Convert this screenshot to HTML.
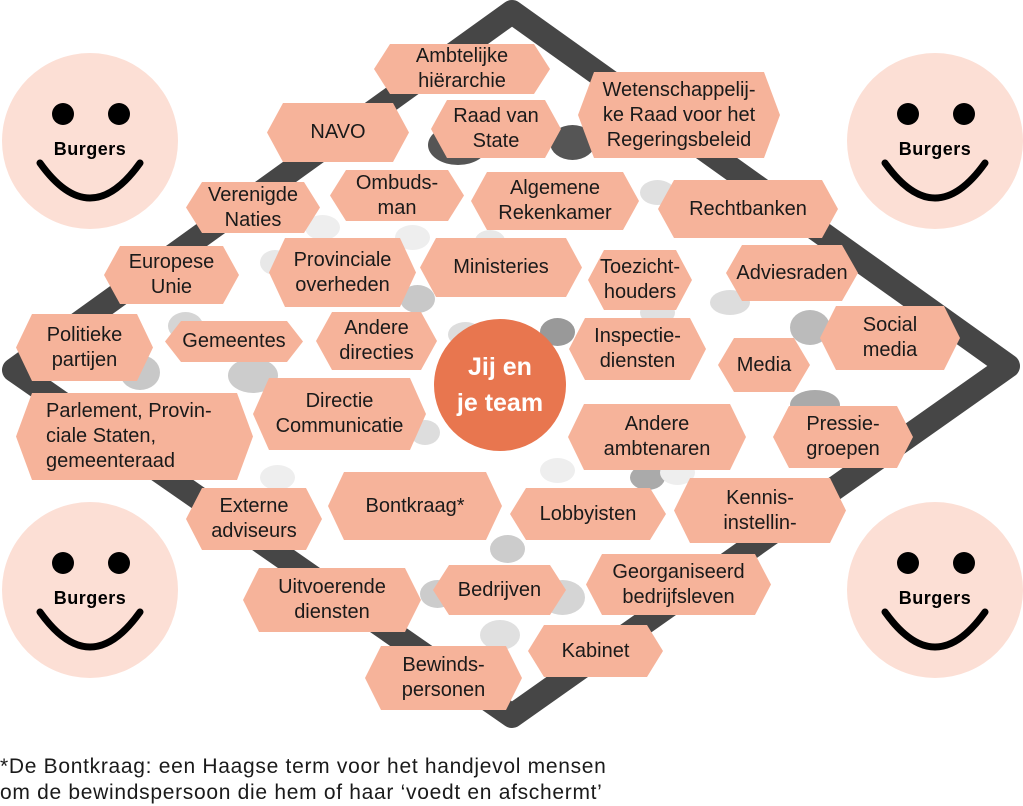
<!DOCTYPE html>
<html><head><meta charset="utf-8"><style>
body{margin:0;width:1023px;height:804px;background:#fff;position:relative;overflow:hidden;font-family:"Liberation Sans","DejaVu Sans",sans-serif;}
.h{position:absolute;background:#f6b39a;color:#1a1a1a;font-size:20px;line-height:25px;display:flex;align-items:center;justify-content:center;text-align:center;white-space:nowrap;clip-path:polygon(16px 0,calc(100% - 16px) 0,100% 50%,calc(100% - 16px) 100%,16px 100%,0 50%);}
.g{position:absolute;border-radius:50%;}
.s{position:absolute;width:176px;height:176px;border-radius:50%;background:#fcdfd5;}
.s .e{position:absolute;width:22px;height:22px;border-radius:50%;background:#000;top:50px;}
.s .t{position:absolute;top:86px;width:100%;text-align:center;font-weight:bold;font-size:18px;letter-spacing:0.5px}
.s svg{position:absolute;left:0;top:0}
</style></head><body>
<svg width="1023" height="804" style="position:absolute;left:0;top:0">
<polygon points="512,12 1008,366 512,716 14,370" fill="none" stroke="#464646" stroke-width="24" stroke-linejoin="round"/>
</svg>
<div class="g" style="left:428px;top:125px;width:60px;height:40px;background:#555"></div>
<div class="g" style="left:550px;top:125px;width:45px;height:35px;background:#555"></div>
<div class="g" style="left:305px;top:215px;width:35px;height:25px;background:#eee"></div>
<div class="g" style="left:395px;top:225px;width:35px;height:25px;background:#eee"></div>
<div class="g" style="left:260px;top:250px;width:30px;height:25px;background:#e8e8e8"></div>
<div class="g" style="left:400px;top:285px;width:35px;height:28px;background:#c8c8c8"></div>
<div class="g" style="left:168px;top:312px;width:35px;height:28px;background:#d5d5d5"></div>
<div class="g" style="left:120px;top:355px;width:40px;height:35px;background:#c8c8c8"></div>
<div class="g" style="left:228px;top:358px;width:50px;height:35px;background:#ccc"></div>
<div class="g" style="left:448px;top:322px;width:35px;height:25px;background:#ddd"></div>
<div class="g" style="left:540px;top:318px;width:35px;height:28px;background:#999"></div>
<div class="g" style="left:790px;top:310px;width:40px;height:35px;background:#bbb"></div>
<div class="g" style="left:790px;top:390px;width:50px;height:30px;background:#aaa"></div>
<div class="g" style="left:710px;top:290px;width:40px;height:25px;background:#ddd"></div>
<div class="g" style="left:640px;top:300px;width:35px;height:25px;background:#e0e0e0"></div>
<div class="g" style="left:410px;top:420px;width:30px;height:25px;background:#ddd"></div>
<div class="g" style="left:260px;top:465px;width:35px;height:25px;background:#eee"></div>
<div class="g" style="left:630px;top:465px;width:35px;height:25px;background:#aaa"></div>
<div class="g" style="left:540px;top:458px;width:35px;height:25px;background:#eee"></div>
<div class="g" style="left:660px;top:460px;width:35px;height:25px;background:#eee"></div>
<div class="g" style="left:490px;top:535px;width:35px;height:28px;background:#ccc"></div>
<div class="g" style="left:540px;top:580px;width:45px;height:35px;background:#d5d5d5"></div>
<div class="g" style="left:420px;top:580px;width:35px;height:28px;background:#ccc"></div>
<div class="g" style="left:480px;top:620px;width:40px;height:30px;background:#e0e0e0"></div>
<div class="g" style="left:475px;top:230px;width:30px;height:22px;background:#e8e8e8"></div>
<div class="g" style="left:640px;top:180px;width:35px;height:25px;background:#e0e0e0"></div>

<div class="h" style="left:374px;top:44px;width:176px;height:50px">Ambtelijke<br>hiërarchie</div>
<div class="h" style="left:267px;top:103px;width:142px;height:59px">NAVO</div>
<div class="h" style="left:431px;top:100px;width:130px;height:58px">Raad van<br>State</div>
<div class="h" style="left:578px;top:72px;width:202px;height:86px">Wetenschappelij-<br>ke Raad voor het<br>Regeringsbeleid</div>
<div class="h" style="left:186px;top:182px;width:134px;height:51px">Verenigde<br>Naties</div>
<div class="h" style="left:330px;top:170px;width:134px;height:51px">Ombuds-<br>man</div>
<div class="h" style="left:471px;top:172px;width:168px;height:58px">Algemene<br>Rekenkamer</div>
<div class="h" style="left:658px;top:180px;width:180px;height:58px">Rechtbanken</div>
<div class="h" style="left:104px;top:246px;width:135px;height:58px">Europese<br>Unie</div>
<div class="h" style="left:269px;top:238px;width:147px;height:69px">Provinciale<br>overheden</div>
<div class="h" style="left:420px;top:238px;width:162px;height:59px">Ministeries</div>
<div class="h" style="left:588px;top:250px;width:104px;height:60px">Toezicht-<br>houders</div>
<div class="h" style="left:726px;top:245px;width:132px;height:56px">Adviesraden</div>
<div class="h" style="left:16px;top:314px;width:137px;height:67px">Politieke<br>partijen</div>
<div class="h" style="left:165px;top:321px;width:138px;height:41px">Gemeentes</div>
<div class="h" style="left:316px;top:312px;width:121px;height:58px">Andere<br>directies</div>
<div class="h" style="left:569px;top:318px;width:137px;height:62px">Inspectie-<br>diensten</div>
<div class="h" style="left:718px;top:338px;width:92px;height:54px">Media</div>
<div class="h" style="left:820px;top:306px;width:140px;height:64px">Social<br>media</div>
<div class="h" style="left:16px;top:393px;width:237px;height:87px;justify-content:flex-start;text-align:left;padding-left:30px;box-sizing:border-box">Parlement, Provin-<br>ciale Staten,<br>gemeenteraad</div>
<div class="h" style="left:253px;top:378px;width:173px;height:72px">Directie<br>Communicatie</div>
<div class="h" style="left:568px;top:404px;width:178px;height:66px">Andere<br>ambtenaren</div>
<div class="h" style="left:773px;top:406px;width:140px;height:62px">Pressie-<br>groepen</div>
<div class="h" style="left:186px;top:488px;width:136px;height:62px">Externe<br>adviseurs</div>
<div class="h" style="left:328px;top:472px;width:174px;height:68px">Bontkraag*</div>
<div class="h" style="left:510px;top:488px;width:156px;height:52px">Lobbyisten</div>
<div class="h" style="left:674px;top:478px;width:172px;height:65px">Kennis-<br>instellin-</div>
<div class="h" style="left:243px;top:568px;width:178px;height:64px">Uitvoerende<br>diensten</div>
<div class="h" style="left:433px;top:565px;width:133px;height:50px">Bedrijven</div>
<div class="h" style="left:586px;top:554px;width:185px;height:61px">Georganiseerd<br>bedrijfsleven</div>
<div class="h" style="left:528px;top:625px;width:135px;height:52px">Kabinet</div>
<div class="h" style="left:365px;top:646px;width:157px;height:64px">Bewinds-<br>personen</div>

<div style="position:absolute;left:434px;top:319px;width:132px;height:132px;border-radius:50%;background:#e8764f;color:#fff;font-weight:bold;font-size:25px;line-height:36px;display:flex;align-items:center;justify-content:center;text-align:center">Jij en<br>je team</div>

<div class="s" style="left:2px;top:53px"><div class="e" style="left:50px"></div><div class="e" style="left:106px"></div><div class="t">Burgers</div><svg width="176" height="176"><path d="M38 110 Q88 180 138 110" fill="none" stroke="#000" stroke-width="7" stroke-linecap="round"/></svg></div>
<div class="s" style="left:847px;top:53px"><div class="e" style="left:50px"></div><div class="e" style="left:106px"></div><div class="t">Burgers</div><svg width="176" height="176"><path d="M38 110 Q88 180 138 110" fill="none" stroke="#000" stroke-width="7" stroke-linecap="round"/></svg></div>
<div class="s" style="left:2px;top:502px"><div class="e" style="left:50px"></div><div class="e" style="left:106px"></div><div class="t">Burgers</div><svg width="176" height="176"><path d="M38 110 Q88 180 138 110" fill="none" stroke="#000" stroke-width="7" stroke-linecap="round"/></svg></div>
<div class="s" style="left:847px;top:502px"><div class="e" style="left:50px"></div><div class="e" style="left:106px"></div><div class="t">Burgers</div><svg width="176" height="176"><path d="M38 110 Q88 180 138 110" fill="none" stroke="#000" stroke-width="7" stroke-linecap="round"/></svg></div>

<div style="position:absolute;left:0;top:754px;font-size:21px;letter-spacing:0.7px;line-height:26px;color:#1a1a1a;white-space:nowrap">*De Bontkraag: een Haagse term voor het handjevol mensen<br>om de bewindspersoon die hem of haar ‘voedt en afschermt’</div>
</body></html>
